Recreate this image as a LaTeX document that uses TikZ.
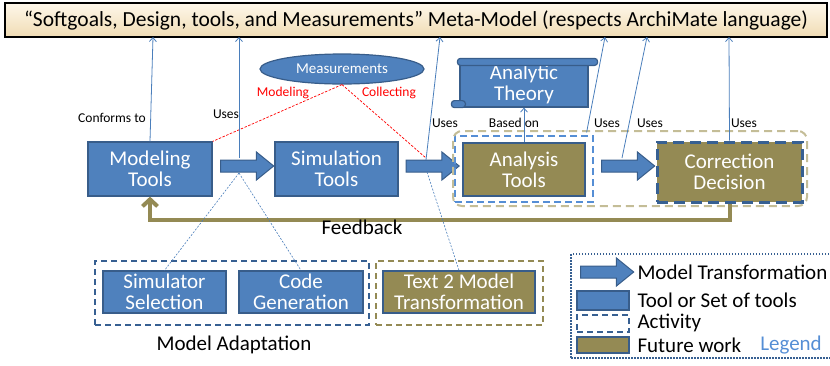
\documentclass[tikz,border=0pt]{standalone}
\usepackage{fontspec}
\setmainfont{Carlito}
\usetikzlibrary{shapes.geometric,shapes.arrows,arrows.meta}
\definecolor{toolblue}{HTML}{4F81BD}
\definecolor{toolline}{HTML}{385D8A}
\definecolor{futureolive}{HTML}{948A54}
\definecolor{futuretan}{HTML}{C4BD97}
\definecolor{linkblue}{HTML}{4A7EBB}
\definecolor{actline}{HTML}{376092}
\definecolor{legendblue}{HTML}{558ED5}
\definecolor{titletop}{HTML}{FEF7EA}
\definecolor{titlebottom}{HTML}{F0DCB4}

\begin{document}
\begin{tikzpicture}[x=1pt,y=-1pt]
		\tikzstyle {tool} = [rectangle, fill=toolblue, draw=toolline, line width=1.2pt, text=white, align=center, inner sep=0pt, font=\fontsize{21}{21}\selectfont]
		\tikzstyle {future} = [tool, fill=futureolive]
		\tikzstyle {transform} = [single arrow, fill=toolblue, draw=toolline, line width=1pt, inner sep=0pt, inner ysep=5.5pt, text height=0pt, text depth=0pt, single arrow head extend=8pt, single arrow tip angle=78, minimum height=53pt]
		\tikzstyle {uses} = [draw=linkblue, line width=0.8pt, -{Straight Barb[length=4pt,width=7pt]}]
		\tikzstyle {adapt} = [draw=linkblue, line width=0.6pt, dash pattern=on 2pt off 1.5pt]
		\tikzstyle {measuring} = [draw=red, line width=0.7pt, dash pattern=on 2.5pt off 1.5pt]
		\tikzstyle {group} = [rectangle, line width=1.5pt, dash pattern=on 6pt off 4pt, inner sep=0pt]
		\tikzstyle {scroll part} = [fill=toolblue, draw=toolline, line width=1.2pt, rounded corners=3pt]
		\tikzstyle {small label} = [font=\fontsize{13.5}{13.5}\selectfont]
		\tikzstyle {big label} = [font=\fontsize{21}{21}\selectfont]

		\useasboundingbox (0,0) rectangle (830,365);

		\node[draw=black, line width=2pt, top color=titletop, bottom color=titlebottom, minimum width=822pt, minimum height=34pt, font=\fontsize{21.5}{21.5}\selectfont] (meta) at (416,20) {“Softgoals, Design, tools, and Measurements” Meta-Model (respects ArchiMate language)};
		\coordinate (c1) at (153,37);
		\coordinate (c2) at (239,37);
		\coordinate (c3) at (440,37);
		\coordinate (c4) at (605,37);
		\coordinate (c5) at (647,37);
		\coordinate (c6) at (729,37);

		\node[tool, minimum width=124pt, minimum height=54pt] (modeling) at (150,169) {Modeling\\Tools};
		\node[transform] (toSim) at (243.5,166) {};
		\node[tool, minimum width=123pt, minimum height=54pt] (simulation) at (336.5,169) {Simulation\\Tools};
		\node[transform] (toAna) at (429,166) {};
		\node[group, draw=legendblue, dash pattern=on 7pt off 4pt, minimum width=138pt, minimum height=66pt] (anaAct) at (524,169) {};
		\node[future, minimum width=122pt, minimum height=53pt] (analysis) at (524,169.5) {Analysis\\Tools};
		\node[transform] (toCor) at (624.5,166) {};
		\node[future, draw=actline, line width=3pt, dash pattern=on 11pt off 6pt, minimum width=145pt, minimum height=60pt] (correction) at (729.5,172) {Correction\\Decision};
		\node[group, draw=futuretan, line width=2pt, dash pattern=on 8pt off 5pt, rounded corners=9pt, minimum width=354pt, minimum height=75pt] (futGroup) at (630,168.5) {};

		\node[ellipse, fill=toolblue, draw=toolline, line width=1.2pt, inner sep=0pt, minimum width=164pt, minimum height=30pt, text=white, font=\fontsize{15}{15}\selectfont] (measure) at (342,69) {Measurements};
		\draw[measuring] (measure.south) -- (modeling.north east);
		\draw[measuring] (measure.south) -- ([shift={(-3,-8)}]toAna.center);
		\node[small label, text=red] (lModel) at (283,93) {Modeling};
		\node[small label, text=red] (lCollect) at (389,93) {Collecting};

		\node[tool, minimum width=128pt, minimum height=45pt] (theory) at (524,84.5) {Analytic\\Theory};
		\draw[scroll part] ([shift={(-2,-3)}]theory.north west) rectangle ([shift={(9,4)}]theory.north east);
		\draw[scroll part] ([shift={(-8,-7)}]theory.south west) rectangle ([shift={(6,0)}]theory.south west);
		\draw[uses] (analysis.north) -- (theory.south);

		\draw[uses] (modeling.north) -- (c1);
		\draw[uses] ([shift={(-4.5,-8)}]toSim.center) -- (c2);
		\draw[uses] ([shift={(-3,-6)}]toAna.center) -- (c3);
		\draw[uses] ([shift={(1,-10)}]analysis.north east) -- (c4);
		\draw[uses] ([shift={(-2.5,-8)}]toCor.center) -- (c5);
		\draw[uses] (correction.north) -- (c6);

		\node[small label] (lConf) at (112,118) {Conforms to};
		\node[small label] (lUse1) at (226,114) {Uses};
		\node[small label] (lUse2) at (445,123) {Uses};
		\node[small label] (lBased) at (514,123) {Based on};
		\node[small label] (lUse3) at (607,123) {Uses};
		\node[small label] (lUse4) at (650,123) {Uses};
		\node[small label] (lUse5) at (744,123) {Uses};

		\draw[draw=futureolive, line width=4pt, -{Straight Barb[length=7pt,width=15pt]}] (correction.south) -- ++(0,16) -| (modeling.south);
		\node[big label] (lFeed) at (362,227) {Feedback};

		\node[group, draw=actline, minimum width=274pt, minimum height=64pt] (adaptation) at (232,293) {};
		\node[tool, minimum width=123pt, minimum height=42pt] (simSel) at (164.5,292) {Simulator\\Selection};
		\node[tool, minimum width=124pt, minimum height=42pt] (codeGen) at (301,292) {Code\\Generation};
		\node[group, draw=futureolive, minimum width=167pt, minimum height=64pt] (t2mGroup) at (459.5,293) {};
		\node[future, minimum width=152pt, minimum height=42pt] (text2model) at (459,292) {Text 2 Model\\Transformation};
		\node[big label] (lAdapt) at (234,345) {Model Adaptation};
		\draw[adapt] ([shift={(-4.5,7)}]toSim.center) -- (simSel.north);
		\draw[adapt] ([shift={(-4.5,7)}]toSim.center) -- (codeGen.north);
		\draw[adapt] ([shift={(-2,6)}]toAna.center) -- (text2model.north);

		\node[group, draw=actline, dash pattern=on 1.5pt off 1.5pt, minimum width=269pt, minimum height=104pt] (legend) at (705.5,306) {};
		\node[transform] (keyArrow) at (603.5,272) {};
		\node[tool, minimum width=52pt, minimum height=19pt] (keyTool) at (603,300.5) {};
		\node[group, draw=actline, minimum width=52pt, minimum height=17pt] (keyAct) at (603,323.5) {};
		\node[future, minimum width=52pt, minimum height=16pt] (keyFuture) at (603,345) {};
		\node[big label, right] (tArrow) at (634,272) {Model Transformation};
		\node[big label, right] (tTool) at (634,300) {Tool or Set of tools};
		\node[big label, right] (tAct) at (634,323) {Activity};
		\node[big label, right] (tFuture) at (634,345) {Future work};
		\node[big label, text=legendblue] (tLegend) at (791,345) {Legend};
	\end{tikzpicture}
\end{document}
